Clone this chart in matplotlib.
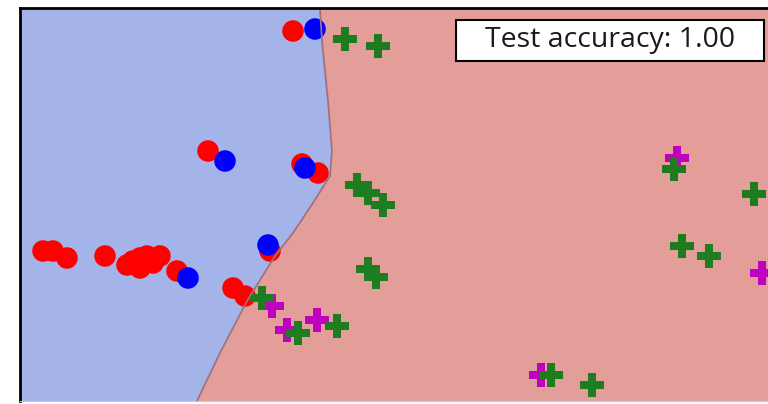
import matplotlib.pyplot as plt
from matplotlib.patches import Rectangle
import numpy as np

# Decision regions and test points (feature units)
boundary_y = [3.92, 3.60, 3.00, 2.50, 2.25, 1.98, 1.68, 1.45, 1.00, 0.48, 0.00]
boundary_x = [3.00, 3.02, 3.08, 3.12, 3.10, 2.93, 2.73, 2.55, 2.27, 2.00, 1.77]

red_x = [2.73, 1.88, 2.82, 2.98, 0.23, 0.33, 0.47, 0.85, 1.07, 1.20, 1.27, 1.20, 1.40, 1.57, 2.13, 2.25, 2.50, 1.33, 1.13]
red_y = [3.70, 2.50, 2.37, 2.28, 1.50, 1.50, 1.43, 1.45, 1.36, 1.43, 1.45, 1.33, 1.45, 1.30, 1.13, 1.05, 1.50, 1.38, 1.40]

blue_x = [2.95, 2.05, 2.85, 1.68, 2.48]
blue_y = [3.72, 2.40, 2.33, 1.23, 1.56]

green_x = [3.25, 3.58, 3.37, 3.48, 3.63, 3.48, 3.56, 2.42, 2.78, 3.17, 6.54, 7.34, 6.62, 6.89, 5.31, 5.72]
green_y = [3.62, 3.55, 2.16, 2.08, 1.96, 1.32, 1.24, 1.03, 0.68, 0.75, 2.32, 2.07, 1.55, 1.45, 0.26, 0.16]

magenta_x = [2.52, 2.67, 2.97, 6.57, 7.42, 5.21]
magenta_y = [0.95, 0.71, 0.81, 2.43, 1.28, 0.26]

accuracy = 1.00

xmin, xmax = 0.0, 7.60
ymin, ymax = 0.0, 3.93

fig = plt.figure(figsize=(7.68, 4.04), dpi=100)
ax = fig.add_axes([20/768, 3/404, 760/768, 393/404])

# regions
ax.fill_betweenx(boundary_y, xmin, boundary_x, color='#a5b4e8', lw=0)
ax.fill_betweenx(boundary_y, boundary_x, xmax, color='#e49e9a', lw=0)
ax.plot(boundary_x, boundary_y, color='#a0707c', lw=1.3)

# points
ax.scatter(red_x, red_y, s=240, c='red', marker='o', edgecolors='none')
ax.scatter(blue_x, blue_y, s=240, c='blue', marker='o', edgecolors='none')
ax.scatter(magenta_x, magenta_y, s=300, c='#c000c0', marker='P', edgecolors='none')
ax.scatter(green_x, green_y, s=300, c='#1e7d1e', marker='P', edgecolors='none')

ax.set_xlim(xmin, xmax)
ax.set_ylim(ymin, ymax)
ax.set_xticks([])
ax.set_yticks([])
for side in ['left', 'top']:
    ax.spines[side].set_linewidth(2)
ax.spines['right'].set_visible(False)
ax.spines['bottom'].set_color('#c8c8c8')

# accuracy box
ax.add_patch(Rectangle((436/760, 1 - 53/393), 308/760, 41/393, transform=ax.transAxes,
                       facecolor='white', edgecolor='black', lw=1.5, zorder=5))
ax.text(590/760, 1 - 32/393, f"Test accuracy: {accuracy:.2f}", transform=ax.transAxes,
        ha='center', va='center', fontsize=20.5, family='Open Sans', color='#1a1a1a', zorder=6)

fig.savefig('out.png', dpi=100)
